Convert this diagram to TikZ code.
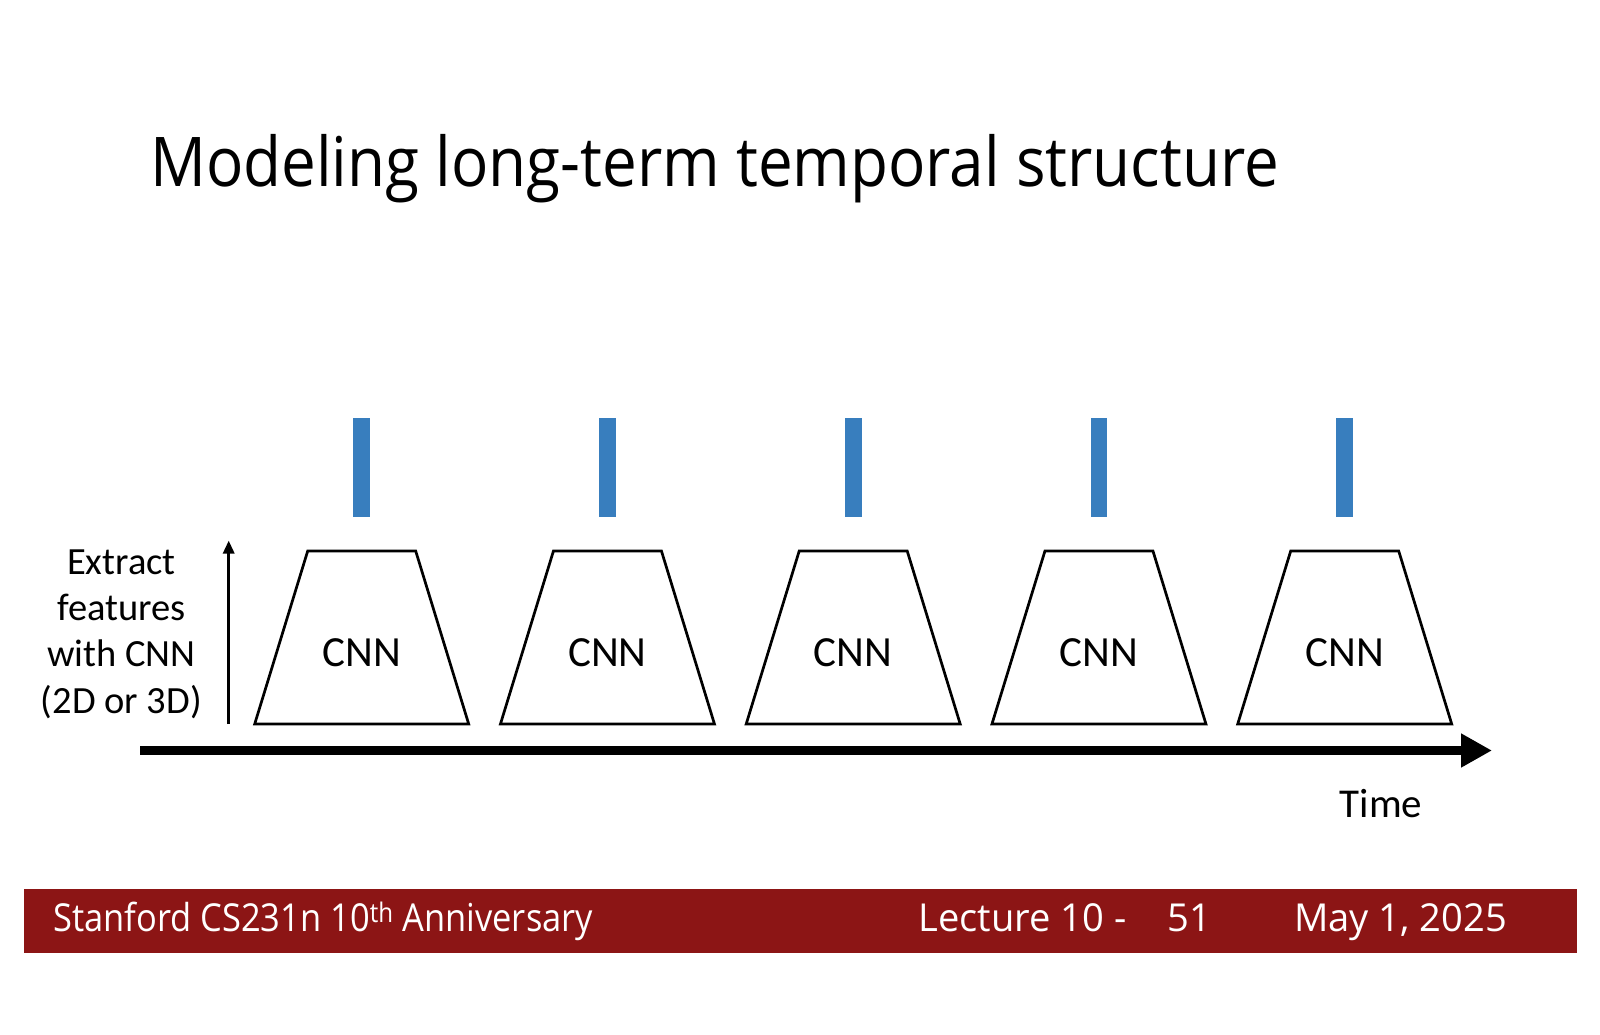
\documentclass[tikz,border=0pt]{standalone}
\usepackage{fontspec}
\setmainfont{Carlito}
\newfontfamily\srcfont[FakeStretch=0.903]{Open Sans}
\newfontfamily\footfont[FakeStretch=0.895]{Open Sans}
\newfontfamily\footwide[FakeStretch=0.99]{Open Sans}
\usetikzlibrary{arrows.meta}
\definecolor{cardinal}{RGB}{140,21,21}
\definecolor{featblue}{RGB}{56,126,190}
\begin{document}
\begin{tikzpicture}[x=1pt,y=-1pt,
  cnnline/.style={draw=black,line width=2.7pt,line join=miter},
  cnnlabel/.style={inner sep=0pt,font=\fontsize{43}{50}\selectfont},
  sidetext/.style={inner sep=0pt,align=center,font=\fontsize{38.5}{46.3}\selectfont},
  titletext/.style={inner sep=0pt,font=\srcfont\fontsize{68.6}{80}\selectfont},
  foottext/.style={inner sep=0pt,text=white,font=\footfont\fontsize{38.5}{46}\selectfont},
  footright/.style={foottext,font=\footwide\fontsize{38.5}{46}\selectfont},
  featbar/.style={fill=featblue,draw=none}]
\useasboundingbox (0,0) rectangle (1600,1035);
\fill[white] (0,0) rectangle (1600,1035);
% title
\node[titletext,anchor=base west] (title) at (150,187) {Modeling long-term temporal structure};
% CNN blocks
\foreach \i in {0,...,4} {
  \pgfmathsetmacro\cx{361.7+245.75*\i}
  \draw[cnnline] (\cx-107,724) -- (\cx-54,551) -- (\cx+54,551) -- (\cx+107,724) -- cycle;
  \node[cnnlabel,anchor=base] (cnn\i) at (\cx,666) {CNN};
  \path[featbar] (\cx-8.3,418) rectangle (\cx+8.3,517);
}
% side label and arrow
\node[sidetext,anchor=base] (side) at (121.4,713) {Extract\\features\\with CNN\\(2D or 3D)};
\coordinate (upstart) at (228.7,724);
\coordinate (upend) at (228.7,540.5);
\draw[line width=3pt,-{Triangle[length=13pt,width=11pt]}] (upstart) -- (upend);
% time axis
\coordinate (tstart) at (140,750.5);
\coordinate (tend) at (1492,750.5);
\draw[line width=9.5pt,-{Triangle[length=31pt,width=32pt]}] (tstart) -- (tend);
\node[cnnlabel,font=\fontsize{41}{48}\selectfont,anchor=base] (time) at (1381,817) {Time};
% footer
\fill[cardinal] (23.5,889) rectangle (1576.5,953);
\node[foottext,anchor=base west] (course) at (53,931.6) {Stanford CS231n 10\textsuperscript{th} Anniversary};
\node[footright,anchor=base west] (lecture) at (918.4,931.6) {Lecture 10 -};
\node[footright,anchor=base west] (page) at (1167,931.6) {51};
\node[footright,anchor=base west] (date) at (1294,931.6) {May 1, 2025};
\end{tikzpicture}
\end{document}
